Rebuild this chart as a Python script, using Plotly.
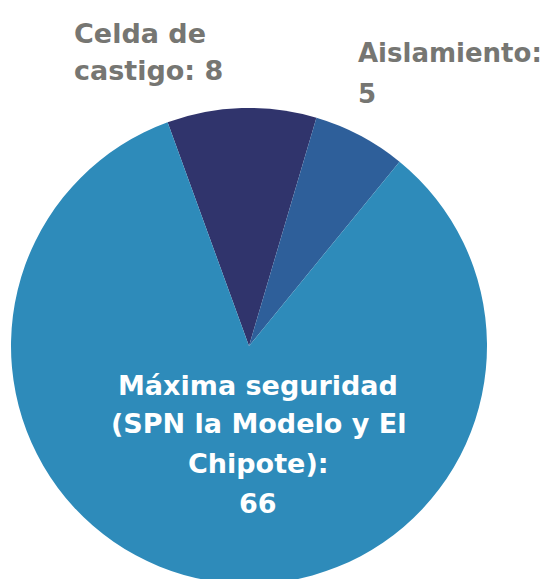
import plotly.graph_objects as go

# Data
labels = ["Celda de castigo", "Aislamiento", "Máxima seguridad (SPN la Modelo y El Chipote)"]
values = [8, 5, 66]
colors = ["#30346C", "#2E5F9A", "#2E8BBA"]
# how each label is wrapped for display (line breaks only)
label_lines = [
    ["Celda de", "castigo: {v}"],
    ["Aislamiento:", "{v}"],
    ["Máxima seguridad", "(SPN la Modelo y El", "Chipote):", "{v}"],
]

W, H = 549, 579
OFF = 8  # page body offset
L, R, T, B = 3, 70, 100, 3
FONT = "DejaVu Sans"
BASE = 8  # baseline -> box bottom


def px(sx):
    return (sx - OFF - L) / (W - L - R)


def py(sy):
    return (H - B - (sy + BASE - OFF)) / (H - T - B)


fig = go.Figure(go.Pie(
    labels=labels,
    values=values,
    marker=dict(colors=colors, line=dict(width=0)),
    sort=False,
    direction="clockwise",
    rotation=-20,
    textinfo="none",
    hoverinfo="label+value",
    showlegend=False,
))

annotations = []
outside_specs = [
    dict(idx=0, x=72, y=[43, 80], size=27),
    dict(idx=1, x=356, y=[62, 103], size=26),
]
for spec in outside_specs:
    for ln, yb in zip(label_lines[spec["idx"]], spec["y"]):
        annotations.append(dict(
            text="<b>" + ln.format(v=values[spec["idx"]]) + "</b>",
            x=px(spec["x"]), y=py(yb), xref="paper", yref="paper",
            xanchor="left", yanchor="bottom", showarrow=False,
            font=dict(family=FONT, size=spec["size"], color="#767672"),
        ))
inner_y = [395, 433, 473, 513]
for ln, yb in zip(label_lines[2], inner_y):
    annotations.append(dict(
        text="<b>" + ln.format(v=values[2]) + "</b>",
        x=px(258), y=py(yb), xref="paper", yref="paper",
        xanchor="center", yanchor="bottom", showarrow=False,
        font=dict(family=FONT, size=27, color="white"),
    ))

fig.update_layout(
    width=W, height=H,
    margin=dict(l=L, r=R, t=T, b=B),
    paper_bgcolor="white", plot_bgcolor="white",
    annotations=annotations,
)
fig.write_html("out.html")
